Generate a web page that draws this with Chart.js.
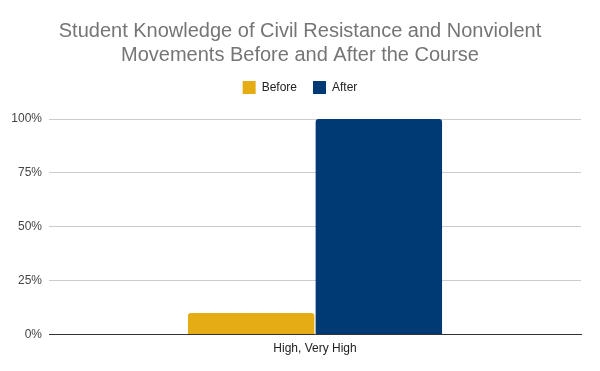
<!DOCTYPE html>
<html>
<head>
<meta charset="utf-8">
<script src="https://cdn.jsdelivr.net/npm/chart.js@4/dist/chart.umd.min.js"></script>
<style>
  html, body { margin: 0; padding: 0; background: #fff; }
  #wrap { width: 600px; height: 371px; }
</style>
</head>
<body>
<div id="wrap"><canvas id="chart"></canvas></div>
<script>
// dados do gráfico
const categories = ['High, Very High'];
const beforeValues = [10];
const afterValues = [100];
const yTicks = [0, 25, 50, 75, 100];

const titleLines = ['Student Knowledge of Civil Resistance and Nonviolent', 'Movements Before and After the Course'];

// espaço extra abaixo da legenda + título/legenda centrados na página
const layoutTweaks = {
    id: 'layoutTweaks',
    beforeInit(chart) {
        const fit = chart.legend.fit;
        chart.legend.fit = function () {
            fit.bind(chart.legend)();
            this.height += 15;
        };
    },
    afterLayout(chart) {
        const w = chart.width;
        [chart.titleBlock, chart.legend].forEach(b => {
            if (!b) return;
            b.left = 19;
            b.right = w - 19;
            b.width = w - 38;
        });
    }
};

const ctx = document.getElementById('chart').getContext('2d');
new Chart(ctx, {
    type: 'bar',
    data: {
        labels: categories,
        datasets: [
            { label: 'Before', data: beforeValues, backgroundColor: '#E6AC14', borderRadius: { topLeft: 3, topRight: 3 }, borderSkipped: 'bottom' },
            { label: 'After', data: afterValues, backgroundColor: '#003A75', borderRadius: { topLeft: 3, topRight: 3 }, borderSkipped: 'bottom' }
        ]
    },
    plugins: [layoutTweaks],
    options: {
        responsive: true,
        maintainAspectRatio: false,
        animation: false,
        layout: { padding: { left: 5, right: 19, top: 19, bottom: 8 } },
        datasets: { bar: { categoryPercentage: 0.48, barPercentage: 0.99 } },
        plugins: {
            title: {
                display: true,
                text: titleLines,
                color: '#757575',
                font: { family: 'Liberation Sans, Arial, sans-serif', size: 20, weight: 'normal', lineHeight: 1.2 },
                padding: { top: 0, bottom: -2 }
            },
            legend: {
                labels: {
                    boxWidth: 13, boxHeight: 13, color: '#222',
                    font: { family: 'Liberation Sans, Arial, sans-serif', size: 12 },
                    padding: 16
                }
            },
            tooltip: { enabled: false }
        },
        scales: {
            x: {
                grid: { display: false, drawTicks: false },
                border: { color: '#333', width: 1 },
                ticks: { color: '#222', font: { family: 'Liberation Sans, Arial, sans-serif', size: 12 }, padding: 7 }
            },
            y: {
                min: 0, max: 100,
                afterBuildTicks: (axis) => { axis.ticks = yTicks.map(v => ({ value: v })); },
                afterFit: (axis) => { axis.width = 44; },
                grid: { color: '#cccccc', drawTicks: false },
                border: { display: false },
                ticks: { color: '#444', font: { family: 'Liberation Sans, Arial, sans-serif', size: 12 }, padding: 7, callback: (v) => v + '%' }
            }
        }
    }
});
</script>
</body>
</html>
